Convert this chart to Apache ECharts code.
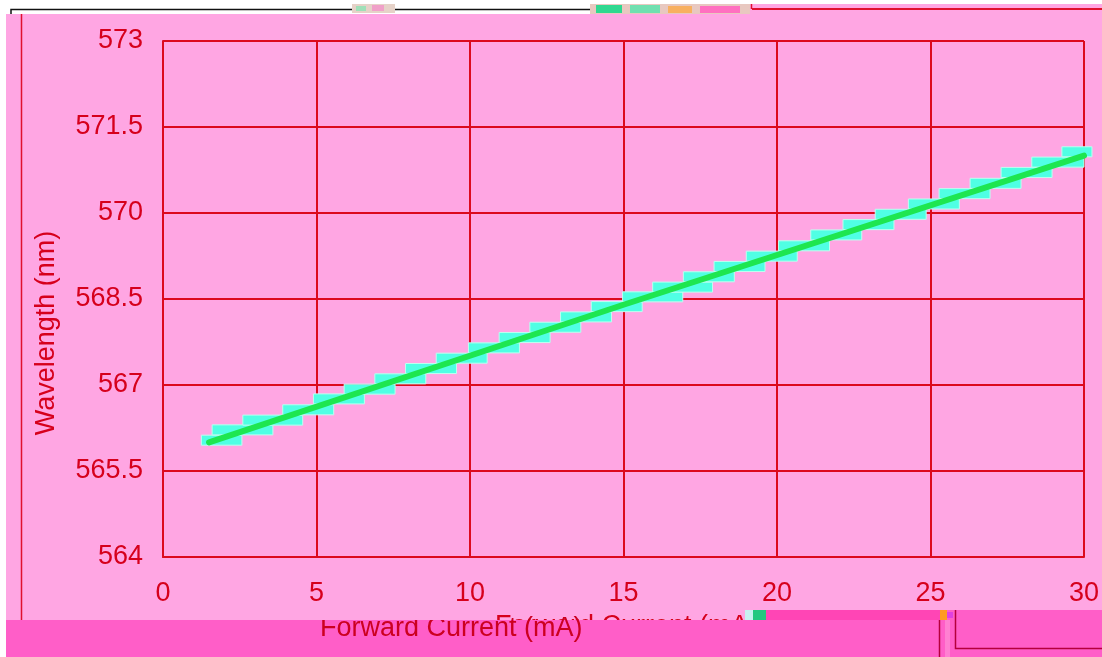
<!DOCTYPE html>
<html><head><meta charset="utf-8">
<script src="https://cdn.jsdelivr.net/npm/echarts@6/dist/echarts.min.js"></script>
<style>html,body{margin:0;padding:0;background:#fff}#c{width:1102px;height:657px}</style>
</head><body><div id="c"></div>
<script>
// ---- data ----
const xTitle = 'Forward Current (mA)';
const yTitle = 'Wavelength (nm)';
const xRange = [0, 30, 5];          // min, max, interval
const yRange = [564, 573, 1.5];
const lineX = [1.5, 15, 30];
const lineY = [566.0, 568.4, 571.0];
const stairFrom = [1.25,1.6,2.6,3.9,4.9,5.9,6.9,7.9,8.9,9.95,10.95,11.95,12.95,13.95,14.97,15.95,16.95,17.95,19.0,20.05,21.1,22.15,23.2,24.28,25.28,26.29,27.3,28.3,29.28];
const stairTo   = [2.57,3.58,4.55,5.56,6.56,7.56,8.56,9.56,10.56,11.61,12.61,13.61,14.61,15.61,16.93,17.9,18.61,19.61,20.66,21.71,22.76,23.81,24.86,25.94,26.94,27.95,28.96,30.0,30.26];
const stairBottom = [565.95,566.13,566.30,566.48,566.67,566.84,567.02,567.20,567.38,567.56,567.74,567.92,568.10,568.28,568.45,568.62,568.80,568.98,569.16,569.34,569.53,569.71,569.89,570.07,570.25,570.43,570.62,570.80,570.98];
const stairHeight = 0.175;

// ---- styles ----
const RED = '#dc0a1e';
const TXT = '#d6001c';
const FONT = '"Liberation Sans", Arial, sans-serif';
const FS = 27;

const chart = echarts.init(document.getElementById('c'), null, {renderer: 'canvas'});
const lineData = lineX.map((x, i) => [x, lineY[i]]);
const stairData = stairFrom.map((x, i) => [x, stairTo[i], stairBottom[i]]);

function txt(text, x, y, z, fill) {
  return {
    type: 'text', x: x, y: y, z: z,
    style: { text: text, font: FS + 'px ' + FONT, fill: fill || TXT,
      align: 'left', verticalAlign: 'middle', textAlign: 'left', textVerticalAlign: 'middle' }
  };
}

chart.setOption({
  animation: false,
  backgroundColor: '#ffa6e3',
  grid: { left: 163, right: 17, top: 41, bottom: 100 },
  xAxis: {
    type: 'value', min: xRange[0], max: xRange[1], interval: xRange[2],
    axisLine: { show: true, lineStyle: { color: RED, width: 2 } },
    axisTick: { show: false },
    splitLine: { show: true, lineStyle: { color: RED, width: 2 } },
    axisLabel: { color: TXT, fontSize: FS, fontFamily: FONT, margin: 23 }
  },
  yAxis: {
    type: 'value', min: yRange[0], max: yRange[1], interval: yRange[2],
    axisLine: { show: true, lineStyle: { color: RED, width: 2 } },
    axisTick: { show: false },
    splitLine: { show: true, lineStyle: { color: RED, width: 2 } },
    axisLabel: { color: TXT, fontSize: FS, fontFamily: FONT, margin: 20 }
  },
  series: [
    {
      type: 'custom', z: 2, clip: false,
      data: stairData,
      renderItem: function (params, api) {
        const a = api.coord([api.value(0), api.value(2) + stairHeight]);
        const b = api.coord([api.value(1), api.value(2)]);
        return { type: 'rect',
          shape: { x: a[0], y: a[1], width: b[0] - a[0], height: b[1] - a[1] },
          style: { fill: '#50ffe4', stroke: '#bdfff0', lineWidth: 1 } };
      }
    },
    {
      type: 'line', z: 3, data: lineData, symbol: 'none', smooth: false,
      lineStyle: { color: '#1ee650', width: 6, cap: 'round' }
    }
  ],
  graphic: [
    // white margins
    { type: 'rect', z: 50, shape: { x: 0, y: 0, width: 6, height: 657 }, style: { fill: '#ffffff' } },
    { type: 'rect', z: 50, shape: { x: 0, y: 0, width: 745, height: 14 }, style: { fill: '#ffffff' } },
    { type: 'rect', z: 50, shape: { x: 745, y: 0, width: 357, height: 4 }, style: { fill: '#ffffff' } },
    // top frame line and noise
    { type: 'polyline', z: 51, shape: { points: [[11, 14], [11, 9.5], [590, 9.5]] }, style: { stroke: '#111111', lineWidth: 1.5, fill: null } },
    { type: 'rect', z: 52, shape: { x: 352, y: 4, width: 43, height: 9 }, style: { fill: '#e6d2c8' } },
    { type: 'rect', z: 53, shape: { x: 356, y: 6, width: 10, height: 5 }, style: { fill: '#9fe0b8' } },
    { type: 'rect', z: 53, shape: { x: 372, y: 5, width: 12, height: 6 }, style: { fill: '#f0a0c8' } },
    { type: 'rect', z: 52, shape: { x: 590, y: 4, width: 160, height: 10 }, style: { fill: '#e8c8c0' } },
    { type: 'rect', z: 53, shape: { x: 596, y: 5, width: 26, height: 8 }, style: { fill: '#30d890' } },
    { type: 'rect', z: 53, shape: { x: 630, y: 5, width: 30, height: 8 }, style: { fill: '#70e0b0' } },
    { type: 'rect', z: 53, shape: { x: 668, y: 6, width: 24, height: 7 }, style: { fill: '#f8b060' } },
    { type: 'rect', z: 53, shape: { x: 700, y: 6, width: 40, height: 7 }, style: { fill: '#ff70c0' } },
    { type: 'line', z: 51, shape: { x1: 752, y1: 9, x2: 1102, y2: 9 }, style: { stroke: '#e0102e', lineWidth: 2 } },
    { type: 'line', z: 51, shape: { x1: 751.5, y1: 4, x2: 751.5, y2: 9 }, style: { stroke: '#e0102e', lineWidth: 1.5 } },
    // left frame line
    { type: 'line', z: 51, shape: { x1: 21.5, y1: 14, x2: 21.5, y2: 620 }, style: { stroke: '#e0102e', lineWidth: 1.5 } },
    // ghost (shifted) title sliver
    txt(xTitle, 495, 626.5, 10),
    // bottom band
    { type: 'rect', z: 20, shape: { x: 6, y: 620, width: 1096, height: 37 }, style: { fill: '#ff5ec8' } },
    { type: 'rect', z: 20, shape: { x: 745, y: 610, width: 357, height: 10 }, style: { fill: '#ff5ec8' } },
    { type: 'rect', z: 21, shape: { x: 766, y: 610, width: 174, height: 10 }, style: { fill: '#ff45b5' } },
    { type: 'rect', z: 21, shape: { x: 745, y: 610, width: 8, height: 10 }, style: { fill: '#c8f0f0' } },
    { type: 'rect', z: 21, shape: { x: 753, y: 610, width: 13, height: 10 }, style: { fill: '#22c880' } },
    { type: 'rect', z: 21, shape: { x: 940, y: 610, width: 7, height: 10 }, style: { fill: '#ff9a20' } },
    { type: 'rect', z: 21, shape: { x: 947, y: 612, width: 6, height: 6 }, style: { fill: '#e040e0' } },
    { type: 'rect', z: 21, shape: { x: 945, y: 620, width: 5, height: 37 }, style: { fill: '#ff80d2' } },
    { type: 'line', z: 22, shape: { x1: 939.5, y1: 620, x2: 939.5, y2: 657 }, style: { stroke: '#b5003c', lineWidth: 1.5 } },
    { type: 'polyline', z: 22, shape: { points: [[955.5, 610], [955.5, 648.5], [1102, 648.5]] }, style: { stroke: '#b5003c', lineWidth: 1.5, fill: null } },
    // main x title, top clipped by light strip
    txt(xTitle, 320, 628.5, 30, '#cc0020'),
    { type: 'rect', z: 40, shape: { x: 310, y: 604, width: 184, height: 16 }, style: { fill: '#ffa6e3' } },
    // y title
    { type: 'text', z: 30, x: 47, y: 333, rotation: Math.PI / 2,
      style: { text: yTitle, font: FS + 'px ' + FONT, fill: TXT, align: 'center', verticalAlign: 'middle', textAlign: 'center', textVerticalAlign: 'middle' } }
  ]
});
</script>
</body></html>
